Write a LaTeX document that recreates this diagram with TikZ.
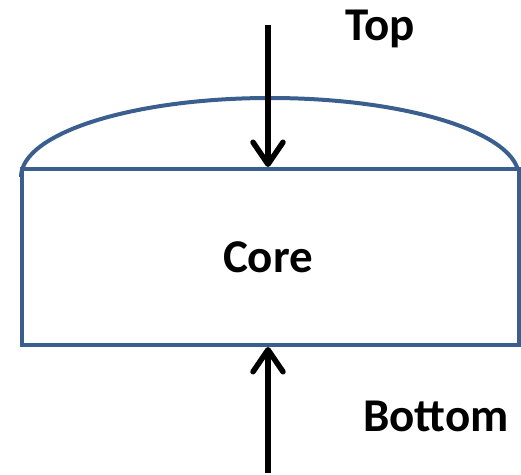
\documentclass[tikz,border=0pt]{standalone}
\usepackage{fontspec}
\setmainfont{Carlito}
\usetikzlibrary{arrows.meta}
\definecolor{edgeblue}{HTML}{3A5F8F}
\tikzset{
  shell/.style={draw=edgeblue, line width=4pt},
  lbl/.style={font=\bfseries\fontsize{47}{50}\selectfont, inner sep=0pt, anchor=base},
  flow/.style={line width=5.5pt, -{Straight Barb[length=22pt, width=30pt, line cap=round, line join=round]}}
}
\begin{document}
\begin{tikzpicture}[x=1pt,y=-1pt]
\useasboundingbox (0,0) rectangle (521,474);
\draw[shell] (21,177) arc[start angle=180, end angle=360, x radius=249, y radius=79];
\node[shell, rectangle, minimum width=497pt, minimum height=176pt, inner sep=0pt, fill=white] (core) at (270.5,257) {};
\node[lbl] (coretext) at (268,272) {Core};
\node[lbl] (toplbl) at (380,40) {Top};
\node[lbl] (botlbl) at (436,431) {Bottom};
\coordinate (topstart) at (268,25);
\coordinate (botstart) at (268,473);
\draw[flow] (topstart) -- (core.north -| topstart);
\draw[flow] (botstart) -- (core.south -| botstart);
\end{tikzpicture}
\end{document}
